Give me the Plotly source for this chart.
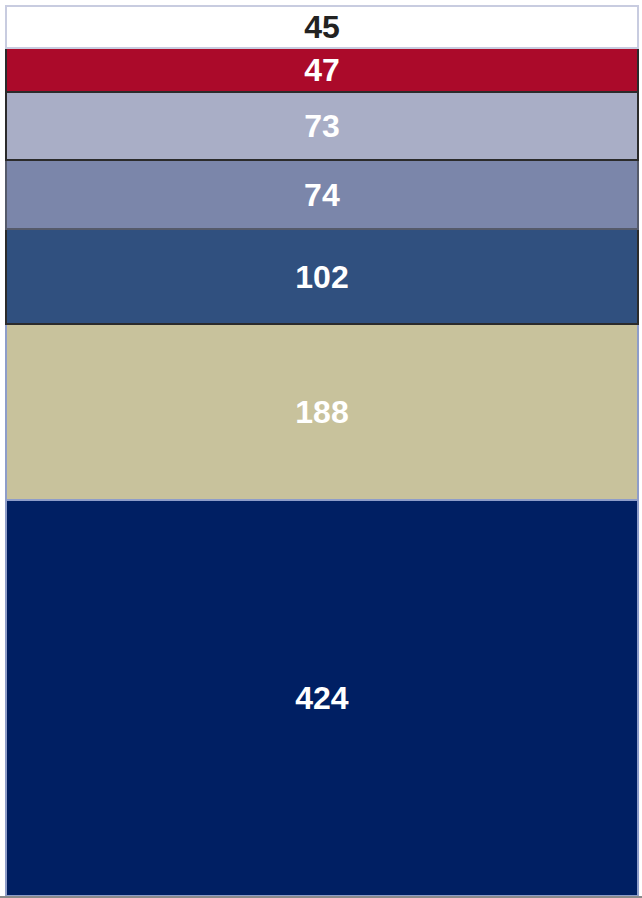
import plotly.graph_objects as go

# Stack segments from bottom to top
values = [424, 188, 102, 74, 73, 47, 45]
fill_colors = ["#001f63", "#c8c29c", "#30507f", "#7b86aa", "#a9aec6", "#ab0a2a", "#ffffff"]
edge_colors = ["#8e9dc9", "#8e9dc9", "#2b2b2b", "#555a6a", "#2b2b2b", "#2b2b2b", "#c8cce0"]
label_colors = ["#ffffff", "#ffffff", "#ffffff", "#ffffff", "#ffffff", "#ffffff", "#222222"]

W, H = 642, 898
left_px, right_px, top_px = 6, 4, 6
bottom_margin = 2
plot_h = H - bottom_margin
bar_w_px = W - left_px - right_px

total = sum(values)
y_max = total * plot_h / (plot_h - top_px)
x0 = -0.5 - left_px / bar_w_px
x1 = 0.5 + right_px / bar_w_px

fig = go.Figure()
for v, fc, ec, tc in zip(values, fill_colors, edge_colors, label_colors):
    fig.add_trace(go.Bar(
        x=[0], y=[v], width=[1],
        marker=dict(color=fc, line=dict(color=ec, width=2)),
        text=[str(v)], textposition="inside", insidetextanchor="middle",
        textangle=0, constraintext="none",
        textfont=dict(family="Liberation Sans, Arial, sans-serif", size=32, color=tc, weight="bold"),
        showlegend=False, hoverinfo="skip",
    ))

fig.update_layout(
    barmode="stack",
    width=W, height=H,
    margin=dict(l=0, r=0, t=0, b=bottom_margin),
    paper_bgcolor="white", plot_bgcolor="white",
    xaxis=dict(range=[x0, x1], showticklabels=False, showgrid=False, zeroline=False,
               showline=True, linecolor="#8a8a8a", linewidth=2, ticks=""),
    yaxis=dict(range=[0, y_max], showticklabels=False, showgrid=False, zeroline=False,
               showline=False, ticks=""),
    uniformtext=dict(mode=False),
)

fig.write_html("out.html")
